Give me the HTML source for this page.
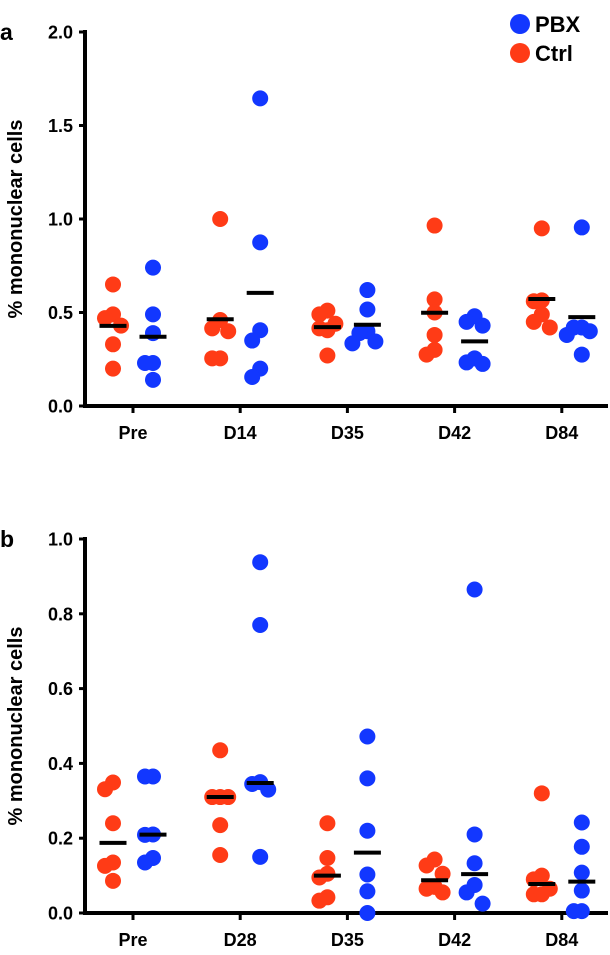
<!DOCTYPE html>
<html><head><meta charset="utf-8"><style>
html,body{margin:0;padding:0;background:#fff;}
svg{display:block;font-family:"Liberation Sans",Arial,sans-serif;font-weight:bold;}
</style></head><body>
<svg id="chart" width="610" height="955" viewBox="0 0 610 955" xmlns="http://www.w3.org/2000/svg"></svg>
<script>
const catsA = ["Pre","D14","D35","D42","D84"];
const ctrlA = [[0.65,0.49,0.47,0.43,0.33,0.20],[1.0,0.46,0.415,0.40,0.255,0.255],[0.51,0.49,0.44,0.415,0.405,0.27],[0.965,0.57,0.50,0.38,0.30,0.275],[0.95,0.565,0.56,0.49,0.45,0.42]];
const pbxA  = [[0.74,0.49,0.39,0.23,0.23,0.14],[1.645,0.875,0.405,0.35,0.20,0.155],[0.62,0.516,0.40,0.39,0.345,0.335],[0.48,0.45,0.43,0.255,0.233,0.225],[0.955,0.42,0.42,0.40,0.38,0.275]];
const ticksA = [0,0.5,1.0,1.5,2.0];
const tickLabelsA = ["0.0","0.5","1.0","1.5","2.0"];
const catsB = ["Pre","D28","D35","D42","D84"];
const ctrlB = [[0.349,0.331,0.24,0.135,0.126,0.086],[0.435,0.31,0.31,0.31,0.235,0.155],[0.24,0.147,0.105,0.095,0.042,0.033],[0.143,0.127,0.105,0.07,0.065,0.055],[0.32,0.10,0.09,0.065,0.05,0.05]];
const pbxB  = [[0.365,0.365,0.21,0.209,0.147,0.135],[0.938,0.77,0.35,0.345,0.33,0.15],[0.472,0.36,0.22,0.103,0.058,0.0],[0.865,0.21,0.133,0.075,0.055,0.025],[0.242,0.177,0.108,0.06,0.005,0.005]];
const ticksB = [0,0.2,0.4,0.6,0.8,1.0];
const tickLabelsB = ["0.0","0.2","0.4","0.6","0.8","1.0"];

const NS="http://www.w3.org/2000/svg";
const svg=document.getElementById('chart');
function mk(tag,attrs,parent){const e=document.createElementNS(NS,tag);for(const k in attrs)e.setAttribute(k,attrs[k]);(parent||svg).appendChild(e);return e;}
function mean(a){return a.reduce((s,v)=>s+v,0)/a.length;}
function median(a){const s=[...a].sort((x,y)=>x-y);const n=s.length;return n%2?s[(n-1)/2]:(s[n/2-1]+s[n/2])/2;}

function panel(o){
  const g=mk('g',{});
  
  
  const axX=85, right=608;
  const y=v=>o.y0-(v-o.vmin)/(o.vmax-o.vmin)*(o.y0-o.y1);
  const xc=i=>133+i*107.2;
  const lab=mk('text',{x:0,y:o.y1+8,'font-size':23},g);lab.textContent=o.letter;
  
  
  const yl=mk('line',{x1:axX,y1:o.y1-2,x2:axX,y2:o.y0+2,stroke:'#000','stroke-width':4},g);
  
  
  const xl=mk('line',{x1:axX-2,y1:o.y0,x2:right,y2:o.y0,stroke:'#000','stroke-width':4},g);
  
  
  o.ticks.forEach((t,i)=>{
    mk('line',{x1:axX-6,y1:y(t),x2:axX,y2:y(t),stroke:'#000','stroke-width':3},g);
    const tx=mk('text',{x:73,y:y(t)+6.5,'font-size':18,'text-anchor':'end'},g);tx.textContent=o.tickLabels[i];
    
    
  });
  const yt=mk('text',{x:0,y:0,'font-size':20,'text-anchor':'middle',transform:`translate(22,${(o.y0+o.y1)/2}) rotate(-90)`},g);
  yt.textContent='% mononuclear cells';
  
  
  o.cats.forEach((c,i)=>{
    mk('line',{x1:xc(i),y1:o.y0,x2:xc(i),y2:o.y0+7,stroke:'#000','stroke-width':3},g);
    const tx=mk('text',{x:xc(i),y:o.y0+33,'font-size':18,'text-anchor':'middle'},g);tx.textContent=c;
    
    
    [[o.ctrl[i],'#ff3b16',-20,'ctrl'],[o.pbx[i],'#1237ff',20,'pbx']].forEach(([vals,col,off,nm])=>{
      const cx=xc(i)+off;
      const placed=[];
      const order=vals.map((v,k)=>k).sort((a,b)=>vals[b]-vals[a]);
      order.forEach(k=>{
        const py=y(vals[k]);
        const near=placed.filter(p=>Math.abs(p.py-py)<13);
        let dx=0;
        if(near.length){const used=near.map(p=>p.dx);dx=[-8,8,0,-15,15].find(d=>!used.includes(d))??0;}
        placed.push({py,dx});
        const d=mk('circle',{cx:cx+dx,cy:py,r:8,fill:col},g);
        
        
      });
      const m=o.stat(vals);
      const b=mk('line',{x1:cx-13.5,y1:y(m),x2:cx+13.5,y2:y(m),stroke:'#000','stroke-width':4},g);
      
      
    });
  });
}
panel({name:'panel-a',letter:'a',cats:catsA,ctrl:ctrlA,pbx:pbxA,ticks:ticksA,tickLabels:tickLabelsA,vmin:0,vmax:2,y0:406,y1:32,stat:mean});
panel({name:'panel-b',letter:'b',cats:catsB,ctrl:ctrlB,pbx:pbxB,ticks:ticksB,tickLabels:tickLabelsB,vmin:0,vmax:1,y0:913,y1:539,stat:median});

const lg=mk('g',{});


[['PBX','#1237ff',24],['Ctrl','#ff3b16',53]].forEach(([t,c,yy])=>{
  const d=mk('circle',{cx:520,cy:yy,r:10,fill:c},lg);
  
  
  const tx=mk('text',{x:535,y:yy+8,'font-size':22},lg);tx.textContent=t;
  
  
});
</script>
</body></html>
